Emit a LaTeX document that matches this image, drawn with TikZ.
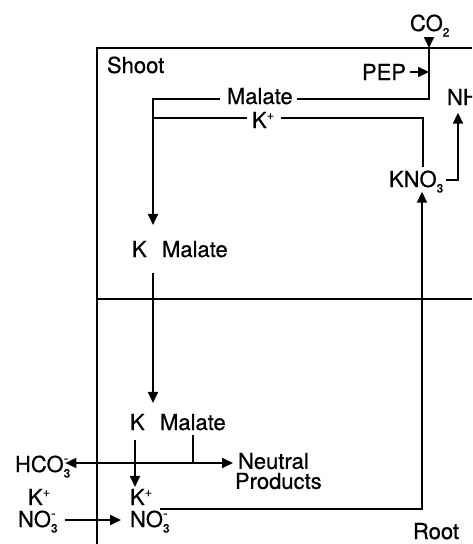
\documentclass[tikz,border=0pt]{standalone}
\usepackage{fontspec}
\setmainfont{TeX Gyre Heros}[FakeBold=0.6]
\usetikzlibrary{arrows.meta,calc}
\newcommand{\sbx}[1]{\raisebox{-5.5pt}{\fontsize{12}{12}\selectfont #1}}
\newcommand{\spx}[1]{\raisebox{8.5pt}{\fontsize{13}{13}\selectfont #1}}
\newcommand{\ssbx}[2]{\rlap{\raisebox{9pt}{\fontsize{14}{14}\selectfont #2}}\sbx{#1}}
\begin{document}
\begin{tikzpicture}[x=1pt,y=-1pt,
  lbl/.style={inner sep=0pt,outer sep=0pt,anchor=base west,font=\fontsize{22}{20}\selectfont},
  ln/.style={line width=1.8pt},
  arr/.style={ln,-{Triangle[length=11pt,width=10pt]}},
  darr/.style={ln,{Triangle[length=11pt,width=10pt]}-{Triangle[length=11pt,width=10pt]}}]
\useasboundingbox (0,0) rectangle (472,544);
\clip (0,0) rectangle (472,544);
% frame
\coordinate (bBL) at (97,544);
\coordinate (bTL) at (97,48);
\coordinate (bTR) at (472,48);
\coordinate (bML) at (97,299);
\coordinate (bMR) at (472,299);
\draw[ln] (bBL) -- (bTL) -- (bTR);
\draw[ln] (bML) -- (bMR);
% labels
\node[lbl] (shoot) at (107,73) {Shoot};
\node[lbl] (co2) at (410,31) {CO\sbx{2}};
\node[lbl] (pep) at (362,80) {PEP};
\node[lbl] (m1) at (227,104) {Malate};
\node[lbl] (kp1) at (252,128) {K\spx{+}};
\node[lbl] (kno3) at (389,187) {KNO\sbx{3}};
\node[lbl] (nh3) at (447,105) {NH\sbx{3}};
\node[lbl] (km1) at (132,257) {K\hspace{0.7em}Malate};
\node[lbl] (km2) at (130,430) {K\hspace{0.7em}Malate};
\node[lbl] (hco3) at (15,472) {HCO\ssbx{3}{-}};
\node[lbl,anchor=west,align=left] (neut) at (235,471) {\hspace{3pt}Neutral\\Products};
\node[lbl] (kpl) at (28,505) {K\spx{+}};
\node[lbl] (no3l) at (18,527) {NO\ssbx{3}{-}};
\node[lbl] (kpr) at (130,505) {K\spx{+}};
\node[lbl] (no3r) at (130,527) {NO\ssbx{3}{-}};
\node[lbl] (root) at (413,539) {Root};
% junctions
\coordinate (cA) at (429,48);
\coordinate (cB) at (429,99);
\coordinate (cC) at (153,99);
\coordinate (cK) at (153,118);
\coordinate (cD) at (423,118);
\coordinate (cE) at (458,180);
\coordinate (cF) at (422,509);
\coordinate (cH) at (135,440);
\coordinate (cJ) at (193,463);
\coordinate (cL) at (0,520);
% connectors
\draw[arr] (co2.south -| cA) -- (cA);
\draw[arr] ($(pep.east)+(4,0)$) -- (pep.east -| cA);
\draw[ln] (cA) -- (cB) -- ($(m1.east |- cB)+(4,0)$);
\draw[arr] ($(m1.west |- cB)+(-7,0)$) -- (cC) -- ($(km1.north -| cC)+(0,-16)$);
\draw[ln] (cK) -- ($(kp1.west |- cK)+(-5,0)$);
\draw[ln] ($(kp1.east |- cK)+(7,0)$) -- (cD) -- ($(kno3.north -| cD)+(0,-4)$);
\draw[arr] ($(kno3.east |- cE)+(3,0)$) -- (cE) -- ($(nh3.south -| cE)+(0,2)$);
\draw[arr] ($(no3r.east |- cF)+(-10,0)$) -- (cF) -- ($(kno3.south -| cF)+(0,-1)$);
\draw[arr] ($(km1.south -| cC)+(0,16)$) -- ($(km2.north -| cC)+(0,-11)$);
\draw[arr] (cH) -- ($(kpr.north -| cH)+(0,-2)$);
\draw[ln] ($(km2.south -| cJ)+(0,5)$) -- (cJ);
\draw[darr] ($(hco3.east |- cJ)+(-5,0)$) -- ($(neut.west |- cJ)+(-2,0)$);
\draw[arr] ($(no3l.east |- cL)+(7,0)$) -- ($(no3r.west |- cL)+(-9,0)$);
\end{tikzpicture}
\end{document}
